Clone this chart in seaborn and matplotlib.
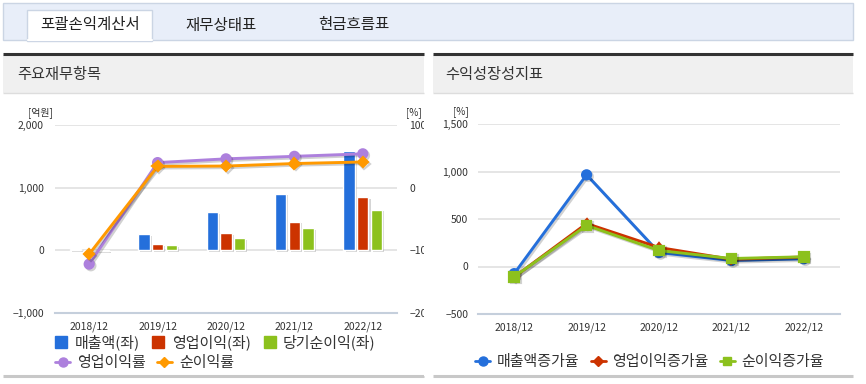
import pandas as pd
import matplotlib.pyplot as plt
import seaborn as sns
from matplotlib.patches import Rectangle, Patch
from matplotlib.lines import Line2D
from matplotlib.ticker import StrMethodFormatter
import matplotlib.patheffects as pe

# ---- data ----
years = ['2018/12', '2019/12', '2020/12', '2021/12', '2022/12']

# 주요재무항목 (억원, left axis)
sales = [14, 254, 608, 905, 1587]
op_income = [-16, 95, 275, 455, 852]
net_income = [-14, 79, 196, 354, 650]
# margins (%, right axis)
op_margin = [-122, 40, 46, 50, 54]
net_margin = [-106, 34, 34.5, 38.5, 41]

# 수익성장성지표 (%)
sales_growth = [-75, 965, 147, 63, 81]
op_growth = [-110, 452, 200, 76, 100]
net_growth = [-108, 432, 168, 84, 102]

bar_labels = ['매출액(좌)', '영업이익(좌)', '당기순이익(좌)']
line_labels = ['영업이익률', '순이익률']
growth_labels = ['매출액증가율', '영업이익증가율', '순이익증가율']

BLUE = '#246fdb'
RED = '#cc3300'
GREEN = '#8cc11d'
PURPLE = '#ad80dd'
ORANGE = '#ff9900'
TXT = '#333333'
AXIS = '#c5cfdc'
GRID = '#e0e0e0'

W, H = 866, 384

sns.set_style('white')
plt.rcParams['font.family'] = ['Noto Sans CJK KR', 'DejaVu Sans']


def rect(x0, y0, x1, y1):
    # pixel box (top-left origin) -> figure fraction
    return [x0 / W, 1 - y1 / H, (x1 - x0) / W, (y1 - y0) / H]


fig = plt.figure(figsize=(W / 100, H / 100), dpi=100)

# ---- page decoration (tabs, panel headers) ----
bg = fig.add_axes([0, 0, 1, 1], zorder=-1)
bg.set_xlim(0, W)
bg.set_ylim(H, 0)
bg.axis('off')

bg.add_patch(Rectangle((3, 3), 850, 37, fc='#e8eef9', ec='#cbd5e4', lw=1))
bg.add_patch(Rectangle((27, 10), 125, 31, fc='white', ec='#cbd5e4', lw=1))
bg.plot([27.5, 151.5], [40, 40], color='white', lw=1.5)
bg.text(90, 25, '포괄손익계산서', ha='center', va='center', fontsize=11.2, color='#222222')
bg.text(221, 25, '재무상태표', ha='center', va='center', fontsize=11.2, color='#222222')
bg.text(354, 25, '현금흐름표', ha='center', va='center', fontsize=11.2, color='#222222')

for x0, x1, title, tx in [(3, 424, '주요재무항목', 17), (433, 853, '수익성장성지표', 445)]:
    bg.add_patch(Rectangle((x0, 55), x1 - x0, 38, fc='#f0f0f0', ec='none'))
    bg.plot([x0, x1], [54, 54], color='#333333', lw=2.2, solid_capstyle='butt')
    bg.plot([x0, x1], [93, 93], color='#dddddd', lw=1, solid_capstyle='butt')
    bg.plot([x0, x1], [375.5, 375.5], color='#c8c8c8', lw=2.2, solid_capstyle='butt')
    bg.text(tx, 75, title, ha='left', va='center', fontsize=11, color=TXT)

bg.text(40, 113, '[억원]', ha='center', va='center', fontsize=7.2, color=TXT)
bg.text(414, 113, '[%]', ha='center', va='center', fontsize=7.2, color=TXT)
bg.text(461, 112, '[%]', ha='center', va='center', fontsize=7.2, color=TXT)


def style_xaxis(ax):
    ax.set_xlim(-0.5, len(years) - 0.5)
    ax.set_xticks(range(len(years)))
    ax.set_xticklabels(years)
    ax.set_xticks([i - 0.5 for i in range(len(years) + 1)], minor=True)
    ax.tick_params(axis='x', which='major', length=0, pad=6, labelsize=7.5, labelcolor=TXT)
    ax.tick_params(axis='x', which='minor', length=5, width=1.2, color=AXIS, direction='out')
    ax.set_xlabel('')
    for s in ['top', 'left', 'right']:
        ax.spines[s].set_visible(False)
    ax.spines['bottom'].set_color(AXIS)
    ax.spines['bottom'].set_linewidth(1.5)


shadow_line = [pe.SimpleLineShadow(offset=(1.2, -1.2), alpha=0.18), pe.Normal()]

# ---- left chart: bars + margins ----
ax = fig.add_axes(rect(55, 125, 397, 313))
ax.patch.set_alpha(0)
bars = pd.DataFrame({
    'year': years * 3,
    'item': sum([[l] * len(years) for l in bar_labels], []),
    'value': sales + op_income + net_income,
})
sns.barplot(data=bars, x='year', y='value', hue='item', palette=[BLUE, RED, GREEN],
            width=0.6, gap=0.17, ax=ax, legend=False, saturation=1, errorbar=None)
for p in ax.patches:
    p.set_path_effects([pe.SimplePatchShadow(offset=(1.5, -1.2), shadow_rgbFace='#888888', alpha=0.35),
                        pe.Normal()])
ax.set_ylim(-1000, 2000)
ax.set_yticks([-1000, 0, 1000, 2000])
ax.yaxis.set_major_formatter(StrMethodFormatter('{x:,.0f}'))
ax.tick_params(axis='y', length=0, pad=8, labelsize=7.5, labelcolor=TXT)
ax.yaxis.grid(True, color=GRID, lw=1.2)
ax.set_axisbelow(True)
ax.set_ylabel('')

ax2 = ax.twinx()
sns.pointplot(x=years, y=op_margin, color=PURPLE, markers='o', markersize=6.5, linewidth=2.1,
              errorbar=None, ax=ax2)
sns.pointplot(x=years, y=net_margin, color=ORANGE, markers='D', markersize=5.2, linewidth=2.1,
              errorbar=None, ax=ax2)
for ln in ax2.lines:
    ln.set_path_effects(shadow_line)
ax2.set_ylim(-200, 100)
ax2.set_yticks([-200, -100, 0, 100])
ax2.tick_params(axis='y', length=0, pad=9, labelsize=7.5, labelcolor=TXT)
for s in ax2.spines.values():
    s.set_visible(False)
ax2.set_ylabel('')
style_xaxis(ax)
ax2.set_xlim(-0.5, len(years) - 0.5)

# panel clip for right-hand labels
fig.add_artist(Rectangle((424 / W, 0.02), 8.5 / W, 0.7, transform=fig.transFigure,
                         fc='white', ec='none', zorder=10))

# legends for left chart
h1 = [Patch(fc=c, ec=c) for c in [BLUE, RED, GREEN]]
fig.legend(h1, bar_labels, loc='center left', bbox_to_anchor=(55 / W, 1 - 342 / H),
           ncol=3, frameon=False, fontsize=10.8, handlelength=0.8, handleheight=0.9,
           handletextpad=0.5, columnspacing=0.85, borderpad=0, borderaxespad=0,
           labelcolor=TXT)
h2 = [Line2D([0], [0], color=PURPLE, marker='o', lw=2, markersize=6.5),
      Line2D([0], [0], color=ORANGE, marker='D', lw=2, markersize=5)]
fig.legend(h2, line_labels, loc='center left', bbox_to_anchor=(55 / W, 1 - 363 / H),
           ncol=2, frameon=False, fontsize=10.8, handlelength=1.0,
           handletextpad=0.5, columnspacing=0.7, borderpad=0, borderaxespad=0,
           labelcolor=TXT)

# ---- right chart: growth rates ----
bx = fig.add_axes(rect(478, 124, 840, 314))
bx.patch.set_alpha(0)
sns.pointplot(x=years, y=sales_growth, color=BLUE, markers='o', markersize=6.5, linewidth=2.1,
              errorbar=None, ax=bx)
sns.pointplot(x=years, y=op_growth, color=RED, markers='D', markersize=4.5, linewidth=2.1,
              errorbar=None, ax=bx)
sns.pointplot(x=years, y=net_growth, color=GREEN, markers='s', markersize=7, linewidth=2.1,
              errorbar=None, ax=bx)
for ln in bx.lines:
    ln.set_path_effects(shadow_line)
bx.set_ylim(-500, 1500)
bx.set_yticks([-500, 0, 500, 1000, 1500])
bx.yaxis.set_major_formatter(StrMethodFormatter('{x:,.0f}'))
bx.tick_params(axis='y', length=0, pad=7, labelsize=7.5, labelcolor=TXT)
bx.yaxis.grid(True, color=GRID, lw=1.2)
bx.set_axisbelow(True)
bx.set_ylabel('')
style_xaxis(bx)

h3 = [Line2D([0], [0], color=BLUE, marker='o', lw=2, markersize=6.5),
      Line2D([0], [0], color=RED, marker='D', lw=2, markersize=5),
      Line2D([0], [0], color=GREEN, marker='s', lw=2, markersize=6)]
fig.legend(h3, growth_labels, loc='center left', bbox_to_anchor=(475 / W, 1 - 362 / H),
           ncol=3, frameon=False, fontsize=10.8, handlelength=1.0,
           handletextpad=0.45, columnspacing=0.75, borderpad=0, borderaxespad=0,
           labelcolor=TXT)

fig.savefig('out.png', dpi=100)
